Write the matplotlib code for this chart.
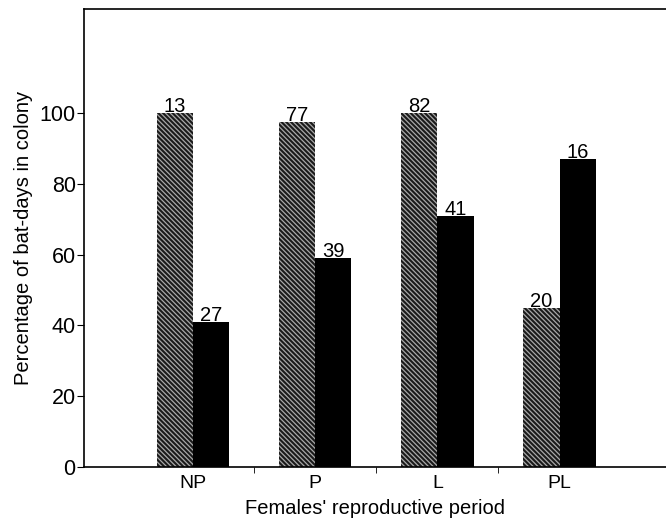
import numpy as np
import matplotlib.pyplot as plt

plt.rcParams['font.family'] = ['Liberation Sans', 'DejaVu Sans']
plt.rcParams['hatch.linewidth'] = 0.9

periods = ['NP', 'P', 'L', 'PL']
hatched_pct = [100, 97.5, 100, 45]
solid_pct = [41, 59, 71, 87]
hatched_n = [13, 77, 82, 20]
solid_n = [27, 39, 41, 16]

fig = plt.figure(figsize=(6.66, 5.24), dpi=100)
ax = fig.add_axes([84 / 666, 57 / 524, 1 - 84 / 666, 458 / 524])

x = np.arange(len(periods))
w = 0.297
ax.bar(x - w / 2, hatched_pct, w, facecolor='#1a1a1a', edgecolor='#a8a8a8',
       hatch='\\' * 7, linewidth=0)
ax.bar(x + w / 2, solid_pct, w, color='black', linewidth=0)

for xi, v, n in zip(x - w / 2, hatched_pct, hatched_n):
    ax.text(xi, v - 0.8, str(n), ha='center', va='bottom', fontsize=14.5)
for xi, v, n in zip(x + w / 2, solid_pct, solid_n):
    ax.text(xi, v - 0.8, str(n), ha='center', va='bottom', fontsize=14.5)

ax.set_xlim(-0.89, 3.87)
ax.set_ylim(0, 129.4)
ax.set_yticks([0, 20, 40, 60, 80, 100])
ax.set_xticks(x)
ax.set_xticklabels(periods)
ax.set_xticks([0.5, 1.5, 2.5], minor=True)
ax.tick_params(axis='x', which='major', length=0, pad=6, labelsize=14)
ax.tick_params(axis='x', which='minor', length=4, direction='out')
ax.tick_params(axis='y', length=5, direction='out', labelsize=15.5, pad=1)

ax.spines['right'].set_visible(False)
for s in ['left', 'top', 'bottom']:
    ax.spines[s].set_linewidth(1.2)

ax.set_xlabel("Females' reproductive period", fontsize=14.5, labelpad=5)
ax.set_ylabel('Percentage of bat-days in colony', fontsize=14.5, labelpad=5)

fig.savefig('out.png', dpi=100)
